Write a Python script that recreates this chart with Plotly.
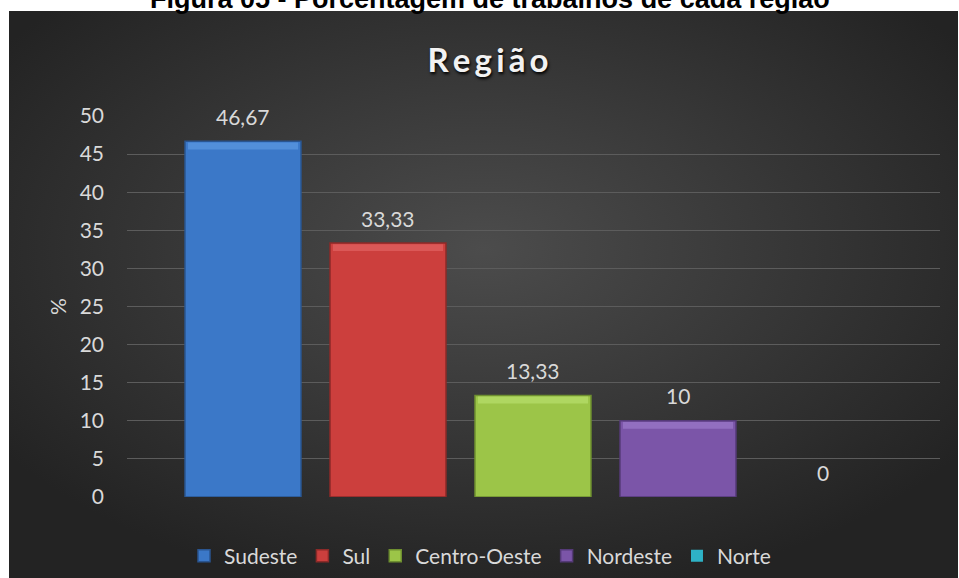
# Porcentagem de trabalhos por região

import plotly.graph_objects as go

regioes = ['Sudeste', 'Sul', 'Centro-Oeste', 'Nordeste', 'Norte']
percentuais = [46.67, 33.33, 13.33, 10, 0]
rotulos = ['46,67', '33,33', '13,33', '10', '0']
cores = ['#3b78c8', '#cc3f3d', '#9cc548', '#7b55a8', '#2eb2c6']
bordas = ['#2a5590', '#8c2a28', '#6e8f30', '#553a78', '#1f7f8e']
realces = ['#5b97e0', '#e06260', '#b6dc6a', '#9a78c8', '#5fd0e0']

y_ticks = list(range(0, 55, 5))

fonte = 'Lato'
cinza_texto = '#d9d9d9'

W, H = 959, 578
ML, MT, PW, PH = 127, 116, 813, 381

# radial gradient used as the chart background (Excel "dark" style)
fundo_svg = (
    "data:image/svg+xml;utf8,"
    "<svg xmlns='http://www.w3.org/2000/svg' width='949' height='567'>"
    "<defs><radialGradient id='g' cx='50%' cy='42%' r='62%'>"
    "<stop offset='0%' stop-color='%234c4c4c'/>"
    "<stop offset='100%' stop-color='%23232323'/>"
    "</radialGradient></defs>"
    "<rect width='949' height='567' fill='url(%23g)'/></svg>"
)

fig = go.Figure()

for nome, valor, cor, borda in zip(regioes, percentuais, cores, bordas):
    fig.add_trace(go.Bar(
        name=nome,
        x=[nome],
        y=[valor],
        width=0.8,
        marker=dict(color=cor, line=dict(color=borda, width=1.5 if valor > 0 else 0)),
        hoverinfo='x+y',
    ))

# thin lighter strip on top of each bar, a rough stand-in for the bevel
faixa = 0.9
for nome, valor, realce in zip(regioes, percentuais, realces):
    if valor <= 0:
        continue
    fig.add_trace(go.Bar(
        x=[nome], y=[faixa], base=[valor - faixa - 0.15],
        width=0.76,
        marker=dict(color=realce, line=dict(width=0)),
        opacity=0.75,
        showlegend=False, hoverinfo='skip',
    ))

# value labels sit ~25px above each bar
anotacoes = [
    dict(x=nome, y=valor, text=rotulo, xref='x', yref='y',
         yanchor='middle', yshift=25, showarrow=False,
         font=dict(family=fonte, size=21, color=cinza_texto))
    for nome, valor, rotulo in zip(regioes, percentuais, rotulos)
]

# caption of the source document, cut by the top edge as in the original
anotacoes.append(dict(
    text='<b>Figura 05 - Porcentagem de trabalhos de cada região</b>',
    xref='paper', yref='paper',
    x=(490 - ML) / PW, y=(MT + PH - 16) / PH,
    xanchor='center', yanchor='bottom',
    showarrow=False,
    font=dict(family='Liberation Sans', size=27, color='black'),
))

fig.update_layout(
    width=W, height=H,
    margin=dict(l=ML, r=W - ML - PW, t=MT, b=H - MT - PH, autoexpand=False),
    paper_bgcolor='white',
    plot_bgcolor='rgba(0,0,0,0)',
    barmode='overlay',
    showlegend=True,
    title=dict(
        text='<b>R\u2009e\u2009g\u2009i\u2009ã\u2009o</b>',
        x=488 / W, xref='container', xanchor='center',
        y=1 - 60 / H, yref='container', yanchor='middle',
        font=dict(family=fonte, size=33, color='#f2f2f2', shadow='1px 2px 3px #000000'),
    ),
    legend=dict(
        orientation='h',
        x=(184 - ML) / PW, xanchor='left', xref='paper',
        y=(MT + PH - 556) / PH, yanchor='middle',
        font=dict(family=fonte, size=21, color=cinza_texto),
        bgcolor='rgba(0,0,0,0)',
        itemclick=False,
    ),
    xaxis=dict(
        range=[-0.8, 4.807],
        showticklabels=False,
        showgrid=False,
        zeroline=False,
        fixedrange=True,
    ),
    yaxis=dict(
        range=[0, 50],
        tickvals=y_ticks,
        ticktext=[str(v) for v in y_ticks],
        tickfont=dict(family=fonte, size=21, color=cinza_texto),
        showgrid=True,
        gridcolor='#5c5c5c',
        gridwidth=1,
        zeroline=False,
        ticklabelstandoff=22,
        fixedrange=True,
        title=dict(text='%', font=dict(family=fonte, size=21, color=cinza_texto), standoff=7),
    ),
    images=[dict(
        source=fundo_svg,
        xref='paper', yref='paper',
        x=(9 - ML) / PW, y=(MT + PH - 11) / PH,
        sizex=949 / PW, sizey=567 / PH,
        xanchor='left', yanchor='top',
        sizing='stretch', layer='below',
    )],
    annotations=anotacoes,
)

# drop the browser's default 8px body margin so the figure fills the window
fig.write_html(
    "out.html",
    config={'displayModeBar': False},
    post_script="document.body.style.margin='0';",
)
